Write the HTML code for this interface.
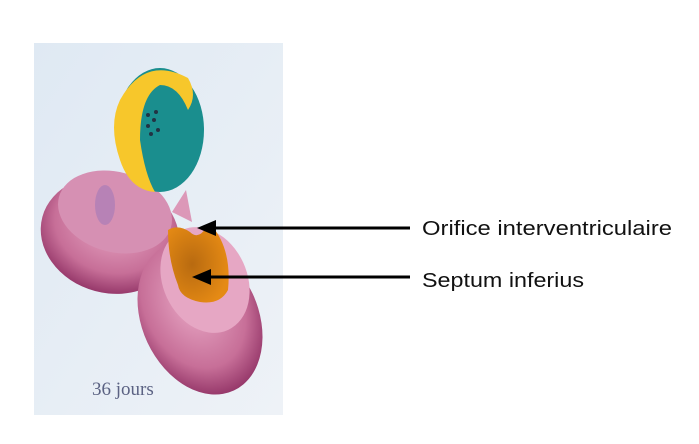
<!DOCTYPE html>
<html><head><style>
body{margin:0;width:699px;height:439px;background:#fff;overflow:hidden;font-family:"Liberation Sans",sans-serif}
</style></head><body>
<svg width="699" height="439" viewBox="0 0 699 439" xmlns="http://www.w3.org/2000/svg">
<defs>
<linearGradient id="bg" x1="0" y1="0" x2="1" y2="1"><stop offset="0" stop-color="#dfe9f3"/><stop offset="1" stop-color="#eef2f7"/></linearGradient>
<radialGradient id="pk" cx="0.5" cy="0.4" r="0.6"><stop offset="0" stop-color="#e9a9c6"/><stop offset="0.7" stop-color="#c76f98"/><stop offset="1" stop-color="#96386a"/></radialGradient>
<radialGradient id="or" cx="0.4" cy="0.5" r="0.6"><stop offset="0" stop-color="#b86a10"/><stop offset="1" stop-color="#e58a14"/></radialGradient>
</defs>
<rect x="34" y="43" width="249" height="372" fill="url(#bg)"/>
<!-- left chamber -->
<ellipse cx="110" cy="235" rx="70" ry="58" transform="rotate(15 110 235)" fill="url(#pk)"/>
<ellipse cx="115" cy="212" rx="58" ry="40" transform="rotate(15 115 212)" fill="#d690b3"/>
<ellipse cx="105" cy="205" rx="10" ry="20" fill="#a27ab8" opacity="0.6"/>
<!-- right chamber -->
<ellipse cx="200" cy="318" rx="58" ry="80" transform="rotate(-25 200 318)" fill="url(#pk)"/>
<ellipse cx="205" cy="280" rx="42" ry="55" transform="rotate(-25 205 280)" fill="#e6a7c4"/>
<path d="M172 212 L186 190 L192 222 Z" fill="#dc98b8"/>
<!-- orange septum -->
<path d="M168 230 Q178 224 190 232 Q198 240 206 228 L212 226 Q232 250 228 290 Q220 305 200 302 Q180 298 178 285 Q168 260 168 230 Z" fill="url(#or)"/>
<!-- teal blob -->
<ellipse cx="160" cy="130" rx="44" ry="62" fill="#1a8e8e"/>
<path d="M120 100 Q145 55 188 78 Q198 95 188 110 Q178 85 160 85 Q140 95 140 140 Q145 175 155 192 Q130 190 120 160 Q108 125 120 100 Z" fill="#f7c72b"/>
<g fill="#234"><circle cx="148" cy="115" r="2"/><circle cx="154" cy="120" r="2"/><circle cx="148" cy="126" r="2"/><circle cx="158" cy="130" r="2"/><circle cx="151" cy="134" r="2"/><circle cx="156" cy="112" r="2"/></g>
<text x="92" y="395" font-family="Liberation Serif,serif" font-size="19" fill="#5b6283">36 jours</text>
<!-- arrows -->
<line x1="410" y1="228" x2="212" y2="228" stroke="#000" stroke-width="3"/>
<polygon points="197,228 216,220 216,236" fill="#000"/>
<line x1="410" y1="277" x2="208" y2="277" stroke="#000" stroke-width="3"/>
<polygon points="192,277 211,269 211,285" fill="#000"/>
<text x="422" y="235" font-size="20" fill="#111" textLength="250" lengthAdjust="spacingAndGlyphs">Orifice interventriculaire</text>
<text x="422" y="287" font-size="20" fill="#111" textLength="162" lengthAdjust="spacingAndGlyphs">Septum inferius</text>
</svg>
</body></html>
